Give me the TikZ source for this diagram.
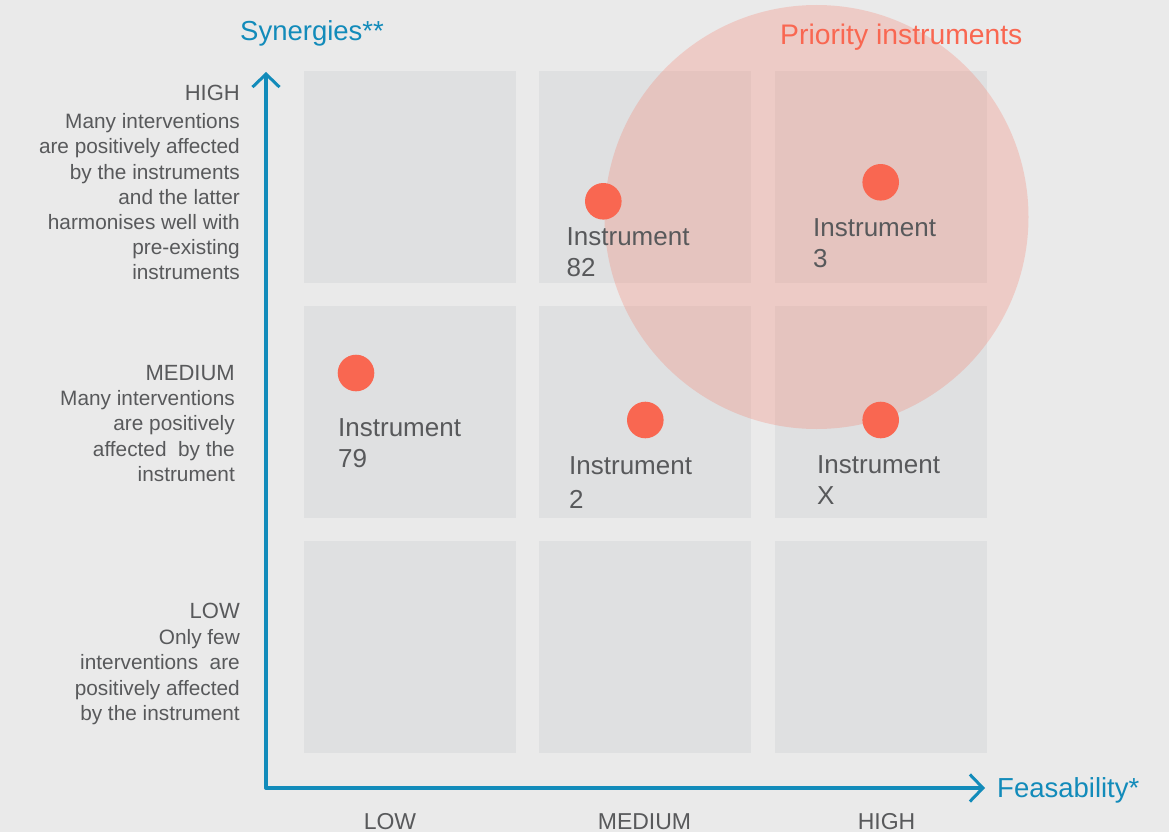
\documentclass[tikz,border=0pt]{standalone}
\usepackage{fontspec}
\setmainfont{Liberation Sans}
\usetikzlibrary{arrows.meta}
\definecolor{bg}{HTML}{EAEAEA}
\definecolor{cellc}{HTML}{DFE0E1}
\definecolor{axisc}{HTML}{128BBA}
\definecolor{dotc}{HTML}{F96751}
\definecolor{txt}{HTML}{58595B}
\begin{document}
\begin{tikzpicture}[x=1pt,y=-1pt,
  cell/.style={fill=cellc, draw=none, minimum width=212pt, minimum height=212pt, inner sep=0pt, anchor=north west},
  dot/.style={circle, fill=dotc, draw=none, minimum size=36.6pt, inner sep=0pt},
  inst/.style={anchor=north west, inner sep=0pt, align=left, text=txt, font=\fontsize{26}{31}\selectfont},
  sidehead/.style={anchor=base east, inner sep=0pt, text=txt, font=\fontsize{22}{26}\selectfont},
  sidebody/.style={anchor=north east, inner sep=0pt, align=right, text=txt, font=\fontsize{20.8}{25.2}\selectfont},
  xlab/.style={anchor=base, inner sep=0pt, text=txt, font=\fontsize{23}{27}\selectfont},
  title/.style={anchor=base west, inner sep=0pt, font=\fontsize{27.5}{32}\selectfont},
  axisline/.style={draw=axisc, line width=4pt, line join=round,
    {Straight Barb[length=13pt,width=27pt,line width=3pt]}-{Straight Barb[length=13pt,width=27pt,line width=3pt]}}
]
\useasboundingbox (0,0) rectangle (1169,832);
\fill[bg] (0,0) rectangle (1169,832);

% grid cells
\node[cell] (c11) at (304,71) {};
\node[cell] (c12) at (539,71) {};
\node[cell] (c13) at (775,71) {};
\node[cell] (c21) at (304,306) {};
\node[cell] (c22) at (539,306) {};
\node[cell] (c23) at (775,306) {};
\node[cell] (c31) at (304,541) {};
\node[cell] (c32) at (539,541) {};
\node[cell] (c33) at (775,541) {};

% priority circle
\node[circle, fill=dotc, fill opacity=0.23, draw=none, minimum size=424pt, inner sep=0pt] (prio) at (816.5,217) {};

% axes
\coordinate (ytop) at (266,72);
\coordinate (xend) at (985,788);
\path[axisline] (ytop) |- (xend);

% titles
\node[title, text=axisc] (syn) at (240,41) {Synergies**};
\node[title, text=dotc, font=\fontsize{28.3}{32}\selectfont] (prt) at (780,45) {Priority instruments};
\node[title, text=axisc] (fea) at (997,797) {Feasability*};

% side labels
\node[sidehead] (hh) at (240,101) {HIGH};
\node[sidebody] (hb) at (240,113.5) {Many interventions\\are positively affected\\by the instruments\\and the latter\\harmonises well with\\pre-existing\\instruments};
\node[sidehead] (mh) at (235,380) {MEDIUM};
\node[sidebody] (mb) at (235,390.5) {Many interventions\\are positively\\affected\ \ by the\\instrument};
\node[sidehead] (lh) at (240,618) {LOW};
\node[sidebody] (lb) at (240,629.5) {Only few\\interventions\ \ are\\positively affected\\by the instrument};

% bottom labels
\node[xlab] (xl) at (390,829) {LOW};
\node[xlab] (xm) at (644.5,829) {MEDIUM};
\node[xlab] (xh) at (886.5,829) {HIGH};

% dots
\node[dot] (d82) at (603.3,201.3) {};
\node[dot] (d3) at (880.7,182.3) {};
\node[dot] (d79) at (356,373) {};
\node[dot] (d2) at (645.3,420) {};
\node[dot] (dX) at (880.7,420) {};

% instrument labels
\node[inst] (l82) at (566.5,227.5) {Instrument\\82};
\node[inst] (l3) at (813,218.5) {Instrument\\3};
\node[inst] (l79) at (338,418.5) {Instrument\\79};
\node[inst] (l2) at (569,456.5) {Instrument\\[3pt]2};
\node[inst] (lX) at (817,455.5) {Instrument\\X};
\end{tikzpicture}
\end{document}
